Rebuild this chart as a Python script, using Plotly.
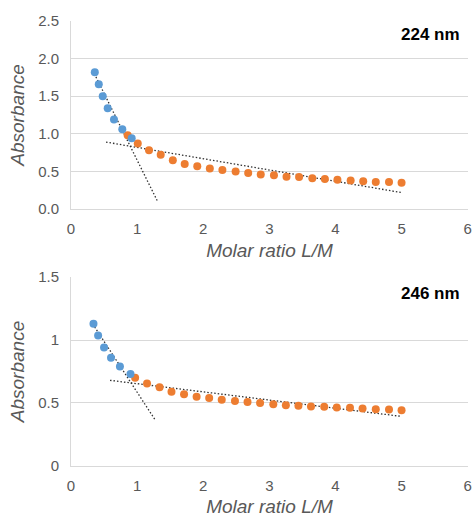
import plotly.graph_objects as go

# ---- Data: 224 nm ----
x224_blue = [0.36, 0.42, 0.48, 0.555, 0.65, 0.776, 0.918]
y224_blue = [1.82, 1.66, 1.50, 1.34, 1.19, 1.06, 0.94]
x224_orange = [0.857, 1.01, 1.18, 1.357, 1.54, 1.72, 1.91, 2.10, 2.29, 2.49, 2.68, 2.87,
               3.07, 3.26, 3.45, 3.65, 3.84, 4.03, 4.23, 4.42, 4.61, 4.81, 5.0]
y224_orange = [0.98, 0.87, 0.78, 0.72, 0.65, 0.60, 0.57, 0.54, 0.52, 0.50, 0.48, 0.46,
               0.45, 0.43, 0.425, 0.41, 0.40, 0.39, 0.38, 0.37, 0.36, 0.36, 0.35]
trend224_steep_x = [0.33, 1.31]
trend224_steep_y = [1.84, 0.10]
trend224_flat_x = [0.53, 4.99]
trend224_flat_y = [0.89, 0.22]

# ---- Data: 246 nm ----
x246_blue = [0.34, 0.41, 0.50, 0.605, 0.74, 0.90]
y246_blue = [1.13, 1.035, 0.94, 0.86, 0.79, 0.73]
x246_orange = [0.97, 1.15, 1.34, 1.52, 1.71, 1.90, 2.09, 2.28, 2.48, 2.67, 2.86, 3.06,
               3.25, 3.44, 3.63, 3.83, 4.02, 4.22, 4.41, 4.61, 4.81, 5.0]
y246_orange = [0.70, 0.655, 0.625, 0.59, 0.57, 0.55, 0.54, 0.525, 0.515, 0.507, 0.50, 0.49,
               0.483, 0.478, 0.473, 0.47, 0.465, 0.462, 0.457, 0.45, 0.449, 0.443]
trend246_steep_x = [0.30, 1.28]
trend246_steep_y = [1.15, 0.36]
trend246_flat_x = [0.59, 4.98]
trend246_flat_y = [0.68, 0.395]

labels = ["224 nm", "246 nm"]
x_ticks = [0, 1, 2, 3, 4, 5, 6]

BLUE = "#5B9BD5"
ORANGE = "#ED7D31"
GRID = "#D9D9D9"
TXT = "#595959"
FONT = "Liberation Sans, Arial, sans-serif"

fig = go.Figure()

def add_panel(xa, ya, xb, yb, xo, yo, sx, sy, fx, fy):
    for tx, ty in ((sx, sy), (fx, fy)):
        fig.add_trace(go.Scatter(x=tx, y=ty, mode="lines", xaxis=xa, yaxis=ya,
                                 line=dict(color="#303030", width=1.3, dash="1.5px,2px"),
                                 showlegend=False))
    fig.add_trace(go.Scatter(x=xo, y=yo, mode="markers", xaxis=xa, yaxis=ya,
                             marker=dict(color=ORANGE, size=8), showlegend=False))
    fig.add_trace(go.Scatter(x=xb, y=yb, mode="markers", xaxis=xa, yaxis=ya,
                             marker=dict(color=BLUE, size=8), showlegend=False))

add_panel("x", "y", x224_blue, y224_blue, x224_orange, y224_orange,
          trend224_steep_x, trend224_steep_y, trend224_flat_x, trend224_flat_y)
add_panel("x2", "y2", x246_blue, y246_blue, x246_orange, y246_orange,
          trend246_steep_x, trend246_steep_y, trend246_flat_x, trend246_flat_y)

xax = dict(range=[0, 6.005], tickvals=x_ticks, showgrid=False, zeroline=False,
           showline=True, linecolor=GRID, linewidth=1, ticks="", automargin=False,
           tickfont=dict(family=FONT, size=15, color=TXT), ticklabelstandoff=6,
           title=dict(text="<i>Molar ratio L/M</i>", font=dict(family=FONT, size=19, color=TXT),
                      standoff=7))
yax = dict(showgrid=True, gridcolor=GRID, gridwidth=1, zeroline=False,
           showline=True, linecolor=GRID, linewidth=1, ticks="", automargin=False,
           tickfont=dict(family=FONT, size=15, color=TXT), ticklabelstandoff=8,
           title=dict(text="<i>Absorbance</i>", font=dict(family=FONT, size=19, color=TXT),
                      standoff=8))

fig.update_layout(
    width=475, height=517,
    margin=dict(l=71, r=7, t=21, b=51),
    plot_bgcolor="white", paper_bgcolor="white",
    xaxis=dict(xax, domain=[0, 1], anchor="y"),
    yaxis=dict(yax, domain=[0.5775, 1], anchor="x", range=[0, 2.5],
               tickvals=[0, 0.5, 1.0, 1.5, 2.0, 2.5],
               ticktext=["0.0", "0.5", "1.0", "1.5", "2.0", "2.5"]),
    xaxis2=dict(xax, domain=[0, 1], anchor="y2"),
    yaxis2=dict(yax, domain=[0, 0.4247], anchor="x2", range=[0, 1.5],
                tickvals=[0, 0.5, 1, 1.5], ticktext=["0", "0.5", "1", "1.5"]),
    annotations=[
        dict(text="<b>" + labels[0] + "</b>", xref="x domain", yref="y domain", x=0.984, y=0.926,
             xanchor="right", yanchor="middle", showarrow=False,
             font=dict(family=FONT, size=17, color="black")),
        dict(text="<b>" + labels[1] + "</b>", xref="x2 domain", yref="y2 domain", x=0.984, y=0.914,
             xanchor="right", yanchor="middle", showarrow=False,
             font=dict(family=FONT, size=17, color="black")),
    ],
)

fig.write_html("out.html", config={"displayModeBar": False},
               post_script="document.body.style.margin='0';document.body.style.overflow='hidden';")
